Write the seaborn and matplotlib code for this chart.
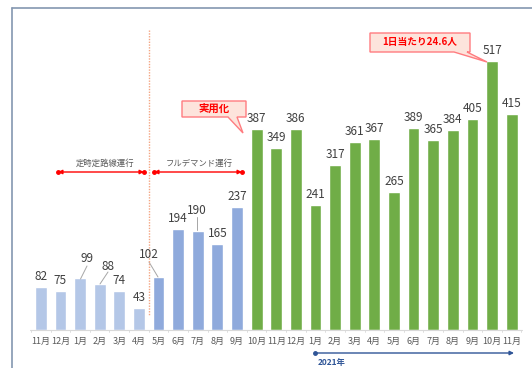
import matplotlib
matplotlib.use("Agg")
import matplotlib.pyplot as plt
import seaborn as sns
import pandas as pd
from matplotlib.patches import Polygon

sns.set_theme(style="white")
plt.rcParams['font.family'] = ['Noto Sans CJK JP', 'DejaVu Sans']

months = ["11月", "12月", "1月", "2月", "3月", "4月", "5月", "6月", "7月", "8月", "9月",
          "10月", "11月", "12月", "1月", "2月", "3月", "4月", "5月", "6月", "7月", "8月",
          "9月", "10月", "11月"]
values = [82, 75, 99, 88, 74, 43, 102, 194, 190, 165, 237,
          387, 349, 386, 241, 317, 361, 367, 265, 389, 365, 384, 405, 517, 415]
phase = ["fixed"] * 6 + ["demand"] * 5 + ["practical"] * 14
phase_colors = {"fixed": "#b4c7e7", "demand": "#8faadc", "practical": "#70ad47"}

df = pd.DataFrame({"idx": [str(i) for i in range(len(values))], "value": values, "phase": phase})

W, H = 532, 368
fig = plt.figure(figsize=(W / 100, H / 100), dpi=100)
ax = fig.add_axes([0, 0, 1, 1])

X0, DX, Y0, SY = 40.8, 19.62, 330.0, 0.5203

def px(x, y):
    return ((x - X0) / DX, (Y0 - y) / SY)

sns.barplot(data=df, x="idx", y="value", hue="phase", palette=phase_colors,
            width=0.6, legend=False, ax=ax, saturation=1, dodge=False)

xl0, _ = px(0, 0)
xl1, _ = px(W, 0)
_, yl0 = px(0, H)
_, yl1 = px(0, 0)
ax.set_xlim(xl0, xl1)
ax.set_ylim(yl0, yl1)
ax.axis("off")

# baseline
bx0, _ = px(30, 0)
bx1, _ = px(522, 0)
ax.plot([bx0, bx1], [0, 0], color="#d9d9d9", lw=0.8, zorder=1)
for k in range(len(values) + 1):
    ax.plot([k - 0.5, k - 0.5], [0, -4], color="#d9d9d9", lw=0.6)

# tick labels
for i, m in enumerate(months):
    ax.text(i, px(0, 341)[1], m, ha="center", va="center", fontsize=6.5, color="#595959")

# value labels
off = 10.5 / SY
special = {2: (87, 259, (87, 266), (80.5, 279)),
           3: (108, 266, (108, 272), (100, 284)),
           6: (149, 255, (149, 262), (158, 277)),
           8: (197, 211, (197, 217), (197, 230))}
for i, v in enumerate(values):
    if i in special:
        lx, ly, a, b = special[i]
        tx, ty = px(lx, ly)
        ax.text(tx, ty, str(v), ha="center", va="center", fontsize=8.5, color="#404040")
        (ax0, ay0), (ax1, ay1) = px(*a), px(*b)
        ax.plot([ax0, ax1], [ay0, ay1], color="#a6a6a6", lw=0.7)
    else:
        ax.text(i, v + off, str(v), ha="center", va="center", fontsize=8.5, color="#404040")

# dotted vertical separator
ax.plot([5.5, 5.5], [px(0, 30)[1], px(0, 316)[1]], color="#f4a582", lw=1.0, ls=(0, (1, 1)))

# red phase arrows
ya = px(0, 172)[1]
for (x0p, x1p) in [(58, 144), (154, 242)]:
    a0, _ = px(x0p, 0)
    a1, _ = px(x1p, 0)
    ax.annotate("", xy=(a1, ya), xytext=(a0, ya),
                arrowprops=dict(arrowstyle="<|-|>", color="#ff0000", lw=1.0,
                                mutation_scale=6, shrinkA=0, shrinkB=0))
    ax.plot([a0, a1], [ya, ya], "o", color="#ff0000", ms=2.5)
ax.text(px(105, 0)[0], px(0, 163)[1], "定時定路線運行", ha="center", va="center",
        fontsize=6, color="#595959")
ax.text(px(199, 0)[0], px(0, 163)[1], "フルデマンド運行", ha="center", va="center",
        fontsize=6, color="#595959")

# year arrow
yy = px(0, 353)[1]
ax.annotate("", xy=(px(514, 0)[0], yy), xytext=(px(315, 0)[0], yy),
            arrowprops=dict(arrowstyle="-|>", color="#2f5597", lw=1.0,
                            mutation_scale=6, shrinkA=0, shrinkB=0))
ax.plot([px(315, 0)[0]], [yy], "o", color="#2f5597", ms=2.5)
ax.text(px(332, 0)[0], px(0, 362)[1], "2021年", ha="center", va="center",
        fontsize=6, color="#2f5597", fontweight="bold")

# callouts
def callout(pts, text, cx, cy, fs):
    poly = Polygon([px(x, y) for x, y in pts], closed=True, facecolor="#fde4dc",
                   edgecolor="#ff7c80", lw=1.0, zorder=5)
    ax.add_patch(poly)
    tx, ty = px(cx, cy)
    ax.text(tx, ty, text, ha="center", va="center", fontsize=fs, color="#ff0000",
            fontweight="bold", zorder=6)

callout([(182, 101), (246, 101), (246, 117), (237, 117), (243, 133), (228, 117), (182, 117)],
        "実用化", 214, 109, 7.5)
callout([(370, 33), (470, 33), (470, 52), (467, 52), (487, 62), (454, 52), (370, 52)],
        "1日当たり24.6人", 420, 42.5, 7)

# frame
fx0, fy0 = px(12, 8)
fx1, _ = px(W, 8)
_, fy1 = px(12, H)
ax.plot([fx0, fx1], [fy0, fy0], color="#8497b0", lw=1.2, zorder=7)
ax.plot([fx0, fx0], [fy0, fy1], color="#8497b0", lw=1.2, zorder=7)

fig.savefig("out.png", dpi=100)
